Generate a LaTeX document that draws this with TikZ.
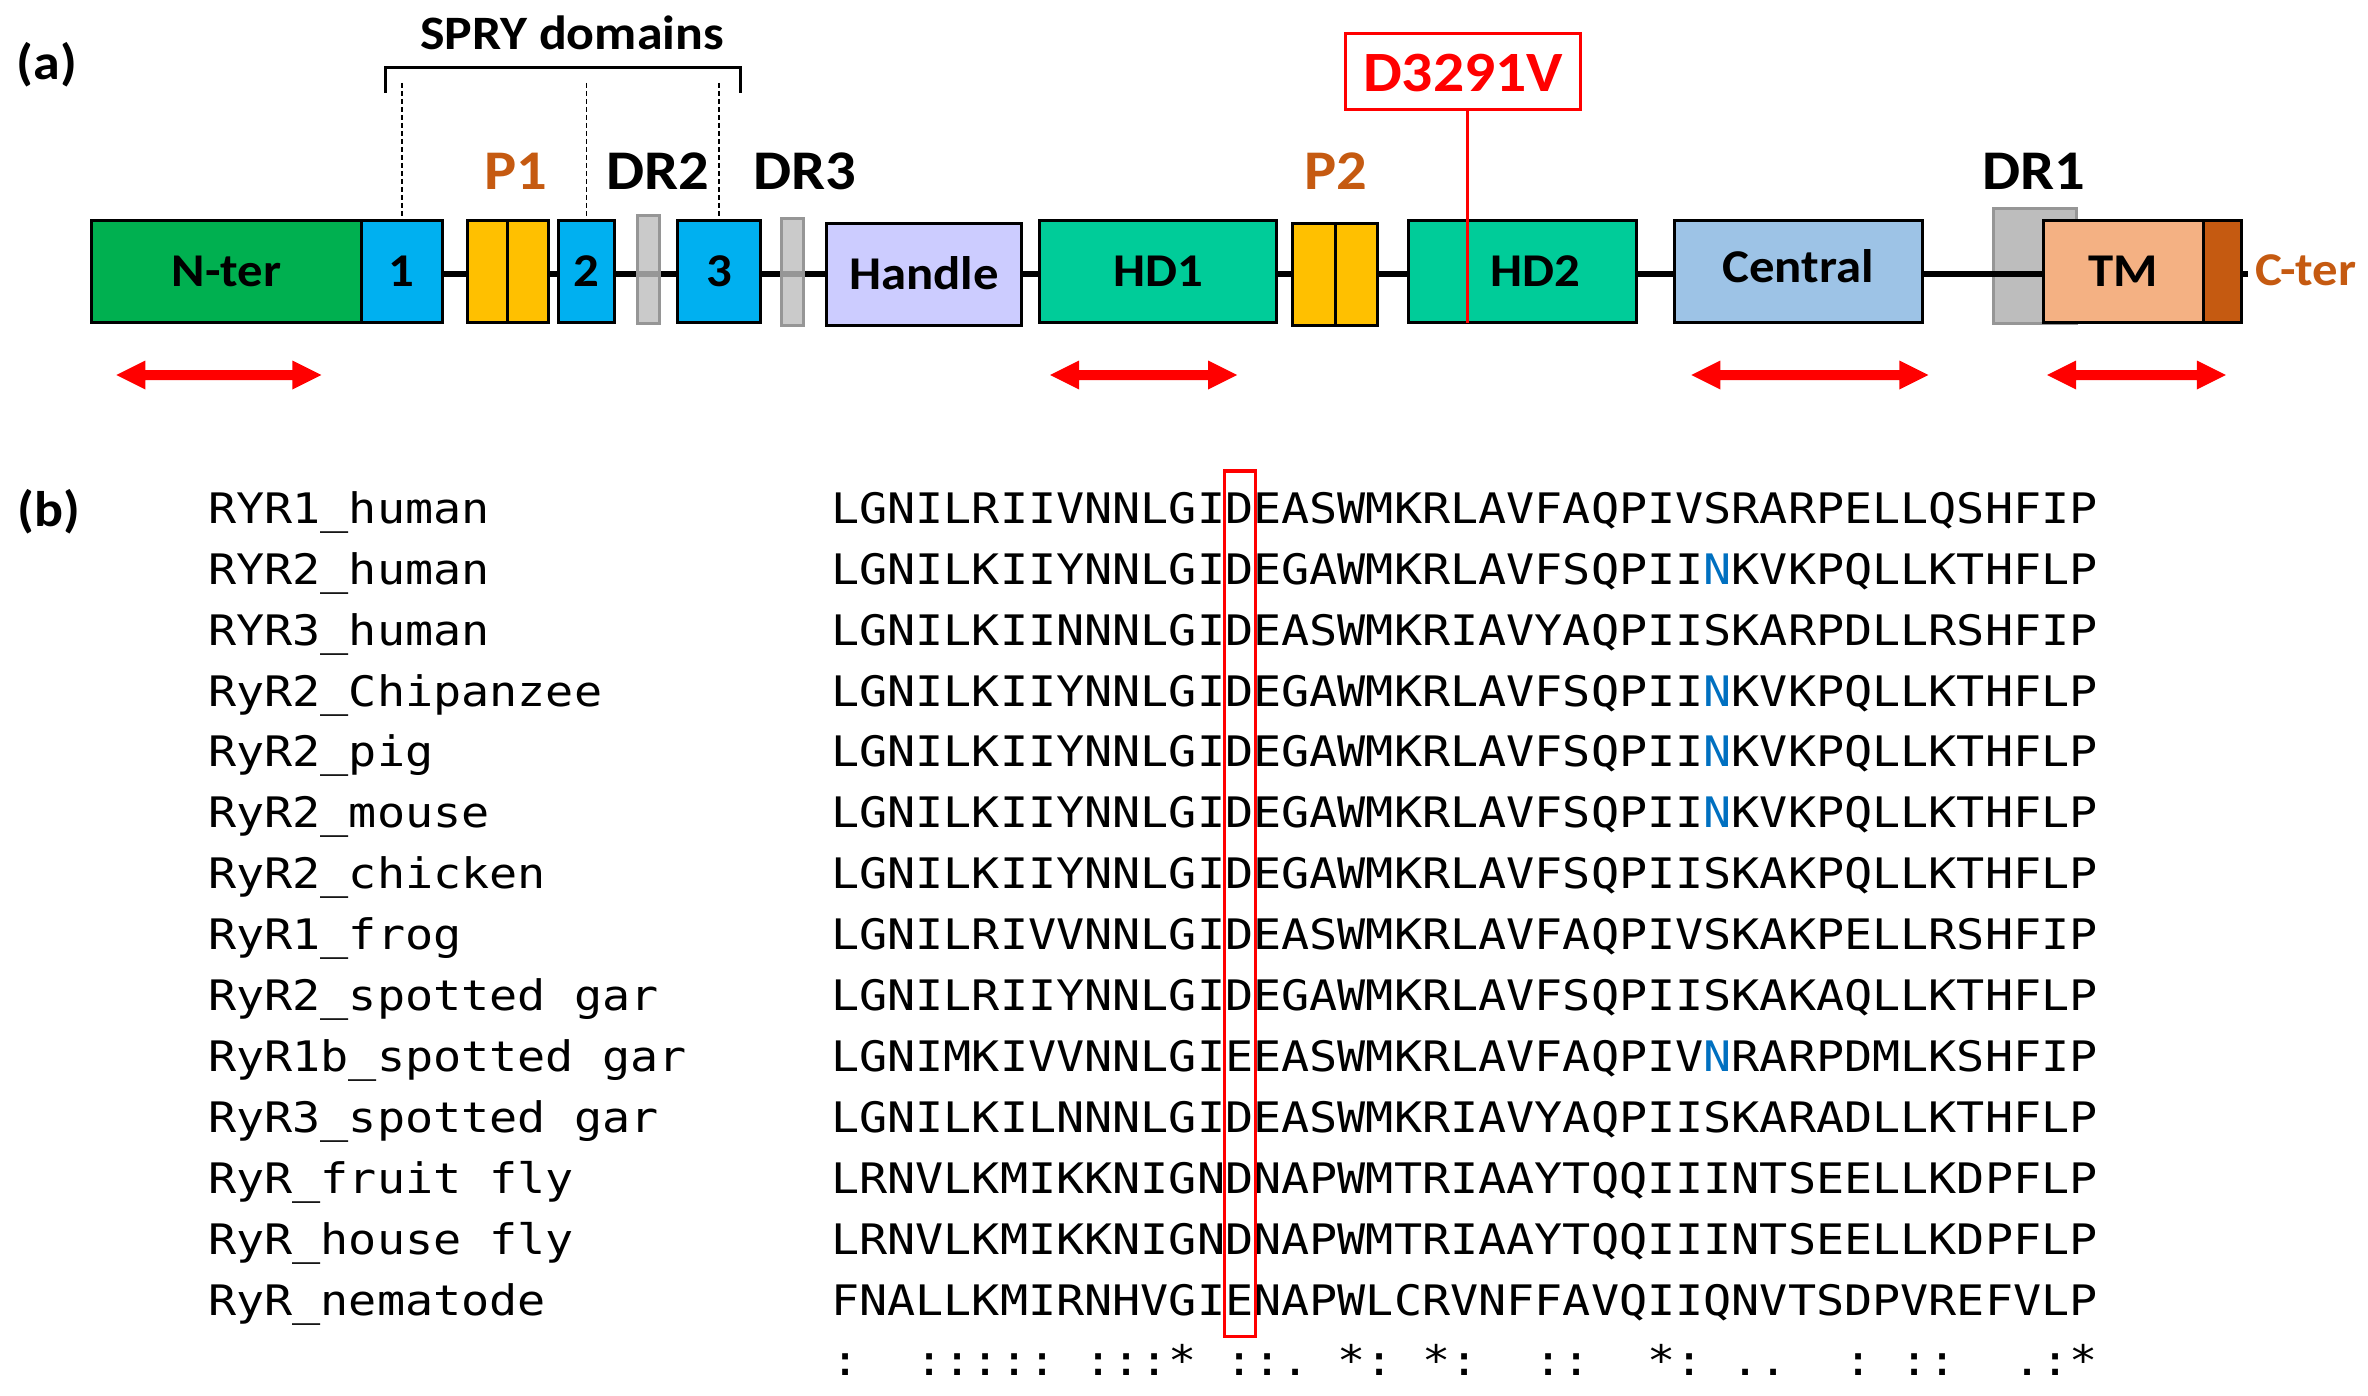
\documentclass[tikz,border=0pt]{standalone}
\usepackage{fontspec}
\newfontfamily\lblfont[FakeStretch=1.08]{Carlito}
\newfontfamily\seqfont[FakeStretch=1.113]{DejaVu Sans Mono}
\definecolor{ntergreen}{HTML}{00B050}
\definecolor{spryblue}{HTML}{00B0F0}
\definecolor{pyellow}{HTML}{FFC000}
\definecolor{drgrey}{HTML}{BDBDBD}
\definecolor{drgreyline}{HTML}{969696}
\definecolor{handlecol}{HTML}{CCCCFF}
\definecolor{hdteal}{HTML}{00CC99}
\definecolor{centralcol}{HTML}{9DC3E6}
\definecolor{tmcol}{HTML}{F4B183}
\definecolor{brown}{HTML}{C55A11}
\definecolor{arrred}{HTML}{FF0000}
\definecolor{nblue}{HTML}{0070C0}
\newcommand\B{\hbox to 28.15pt{}}
\newcommand\redarr[3]{\fill[arrred] (#1,#3) -- ++(29,-14.5) -- ++(0,9.5) -- ({#2-29},{#3-5}) -- ({#2-29},{#3-14.5}) -- (#2,#3) -- ({#2-29},{#3+14.5}) -- ({#2-29},{#3+5}) -- ({#1+29},{#3+5}) -- ({#1+29},{#3+14.5}) -- cycle;}
\begin{document}
\begin{tikzpicture}[x=1pt,y=-1pt,
  dbox/.style={draw=black, line width=3pt, inner sep=0pt, text height=30pt, text depth=0pt,
     font=\lblfont\bfseries\fontsize{47}{47}\selectfont},
  gbox/.style={draw=drgreyline, line width=3pt, fill=drgrey, fill opacity=0.8, inner sep=0pt},
  lbl/.style={font=\lblfont\bfseries\fontsize{56}{56}\selectfont, inner sep=0pt, anchor=base},
  panel/.style={font=\lblfont\bfseries\fontsize{50}{50}\selectfont, inner sep=0pt, anchor=base},
  seq/.style={font=\seqfont\fontsize{42}{42}\selectfont, inner sep=0pt, anchor=base west},
  dash line/.style={line width=1.5pt, dash pattern=on 5pt off 3pt}
]
\useasboundingbox (0,0) rectangle (2368,1396);
\fill[white] (0,0) rectangle (2368,1396);

% ---------- panel (a) ----------
\node[panel] (pa) at (46.7,80) {(a)};

% DR1 grey (behind line)
\node[gbox, fill opacity=1, minimum width=83.1pt, minimum height=114.6pt] (dr1g) at (2035.15,266) {};

% backbone line
\coordinate (lineL) at (361,274);
\coordinate (lineR) at (2248,274);
\draw[line width=6pt] (lineL) -- (lineR);

\node[dbox, fill=ntergreen, minimum width=269.4pt, minimum height=102pt] (nter) at (226.5,271.7) {N-ter};
\node[dbox, fill=spryblue, minimum width=81.1pt, minimum height=102pt] (s1) at (401.75,271.7) {1};
\node[dbox, fill=pyellow, minimum width=40.2pt, minimum height=102pt] (p1a) at (487.7,271.7) {};
\node[dbox, fill=pyellow, minimum width=40.2pt, minimum height=102pt] (p1b) at (527.9,271.7) {};
\node[dbox, fill=spryblue, minimum width=55.8pt, minimum height=102pt] (s2) at (586.6,271.7) {2};
\node[gbox, minimum width=22.2pt, minimum height=107.3pt] (g2) at (648.6,269.65) {};
\node[dbox, fill=spryblue, minimum width=83.4pt, minimum height=102pt] (s3) at (719,271.7) {3};
\node[gbox, minimum width=22.2pt, minimum height=107.3pt] (g3) at (792.5,272.35) {};
\node[dbox, fill=handlecol, minimum width=195.2pt, minimum height=101.3pt] (handle) at (924.1,274.65) {Handle};
\node[dbox, fill=hdteal, minimum width=237.3pt, minimum height=102pt] (hd1) at (1157.95,271.7) {HD1};
\node[dbox, fill=pyellow, minimum width=42.35pt, minimum height=102pt] (p2a) at (1314.1,275) {};
\node[dbox, fill=pyellow, minimum width=42.35pt, minimum height=102pt] (p2b) at (1356.4,275) {};
\node[dbox, fill=hdteal, minimum width=227.5pt, minimum height=102pt] (hd2) at (1522.45,271.7) {\hspace*{26pt}HD2};
\node[dbox, fill=centralcol, minimum width=247.8pt, minimum height=102pt] (central) at (1798.2,271.7) {\raisebox{4pt}{Central}};
\node[dbox, fill=tmcol, minimum width=160pt, minimum height=102pt] (tm) at (2123.3,271.7) {TM};
\node[dbox, fill=brown, minimum width=38.1pt, minimum height=102pt] (cterbox) at (2222.35,271.7) {};
\node[lbl, font=\lblfont\bfseries\fontsize{47}{47}\selectfont, text=brown] (cter) at (2306,286) {C-ter};

% labels above
\node[lbl, text=brown] (p1lbl) at (516,190) {P1};
\node[lbl] (dr2lbl) at (658,190) {DR2};
\node[lbl] (dr3lbl) at (805,190) {DR3};
\node[lbl, text=brown] (p2lbl) at (1335.6,190) {P2};
\node[lbl] (dr1lbl) at (2033.7,190) {DR1};

% SPRY bracket
\node[lbl, font=\lblfont\bfseries\fontsize{48}{48}\selectfont] (spry) at (572,50) {SPRY domains};
\draw[line width=3pt] (385,93) -- (385,67.7) -- (740,67.7) -- (740,93);
\coordinate (d1) at (s1.north |- 0,83);
\coordinate (d2) at (s2.north |- 0,83);
\coordinate (d3) at (s3.north |- 0,83);
\draw[dash line] (d1) -- (s1.north);
\draw[dash line] (d2) -- (s2.north);
\draw[dash line] (d3) -- (s3.north);

% mutation
\node[draw=arrred, line width=3pt, fill=white, minimum width=234.6pt, minimum height=76.3pt, inner sep=0pt,
      text=arrred, text height=39pt, text depth=0pt,
      font=\lblfont\bfseries\fontsize{57}{57}\selectfont] (mut) at (1463,71.85) {D3291V};
\coordinate (mutend) at (1467.7,322.7);
\draw[arrred, line width=3pt] (mutend |- mut.south) -- (mutend);

% red double arrows
\redarr{116.3}{321.4}{375}
\redarr{1050}{1237}{375}
\redarr{1691.4}{1928.3}{375}
\redarr{2047}{2225.8}{375}

% ---------- panel (b) ----------
\node[panel] (pb) at (48.6,526) {(b)};

\node[seq] (n1) at (208,523.3) {RYR1\_human};
\node[seq] (n2) at (208,584.2) {RYR2\_human};
\node[seq] (n3) at (208,645.1) {RYR3\_human};
\node[seq] (n4) at (208,706.0) {RyR2\_Chipanzee};
\node[seq] (n5) at (208,766.9) {RyR2\_pig};
\node[seq] (n6) at (208,827.8) {RyR2\_mouse};
\node[seq] (n7) at (208,888.7) {RyR2\_chicken};
\node[seq] (n8) at (208,949.6) {RyR1\_frog};
\node[seq] (n9) at (208,1010.5) {RyR2\_spotted gar};
\node[seq] (n10) at (208,1071.4) {RyR1b\_spotted gar};
\node[seq] (n11) at (208,1132.3) {RyR3\_spotted gar};
\node[seq] (n12) at (208,1193.2) {RyR\_fruit fly};
\node[seq] (n13) at (208,1254.1) {RyR\_house fly};
\node[seq] (n14) at (208,1315.0) {RyR\_nematode};

\node[seq] (q1) at (831,523.3) {LGNILRIIVNNLGIDEASWMKRLAVFAQPIVSRARPELLQSHFIP};
\node[seq] (q2) at (831,584.2) {LGNILKIIYNNLGIDEGAWMKRLAVFSQPII\textcolor{nblue}{N}KVKPQLLKTHFLP};
\node[seq] (q3) at (831,645.1) {LGNILKIINNNLGIDEASWMKRIAVYAQPIISKARPDLLRSHFIP};
\node[seq] (q4) at (831,706.0) {LGNILKIIYNNLGIDEGAWMKRLAVFSQPII\textcolor{nblue}{N}KVKPQLLKTHFLP};
\node[seq] (q5) at (831,766.9) {LGNILKIIYNNLGIDEGAWMKRLAVFSQPII\textcolor{nblue}{N}KVKPQLLKTHFLP};
\node[seq] (q6) at (831,827.8) {LGNILKIIYNNLGIDEGAWMKRLAVFSQPII\textcolor{nblue}{N}KVKPQLLKTHFLP};
\node[seq] (q7) at (831,888.7) {LGNILKIIYNNLGIDEGAWMKRLAVFSQPIISKAKPQLLKTHFLP};
\node[seq] (q8) at (831,949.6) {LGNILRIVVNNLGIDEASWMKRLAVFAQPIVSKAKPELLRSHFIP};
\node[seq] (q9) at (831,1010.5) {LGNILRIIYNNLGIDEGAWMKRLAVFSQPIISKAKAQLLKTHFLP};
\node[seq] (q10) at (831,1071.4) {LGNIMKIVVNNLGIEEASWMKRLAVFAQPIV\textcolor{nblue}{N}RARPDMLKSHFIP};
\node[seq] (q11) at (831,1132.3) {LGNILKILNNNLGIDEASWMKRIAVYAQPIISKARADLLKTHFLP};
\node[seq] (q12) at (831,1193.2) {LRNVLKMIKKNIGNDNAPWMTRIAAYTQQIIINTSEELLKDPFLP};
\node[seq] (q13) at (831,1254.1) {LRNVLKMIKKNIGNDNAPWMTRIAAYTQQIIINTSEELLKDPFLP};
\node[seq] (q14) at (831,1315.0) {FNALLKMIRNHVGIENAPWLCRVNFFAVQIIQNVTSDPVREFVLP};
\node[seq] (cons) at (831,1375.9) {:\B\B:::::\B:::*\B::.\B*:\B*:\B\B::\B\B*:\B..\B\B:\B::\B\B.:*};

% highlighted column
\node[draw=arrred, line width=3.5pt, minimum width=31pt, minimum height=865.5pt, inner sep=0pt] (colbox) at (1240,903.75) {};
\end{tikzpicture}
\end{document}
